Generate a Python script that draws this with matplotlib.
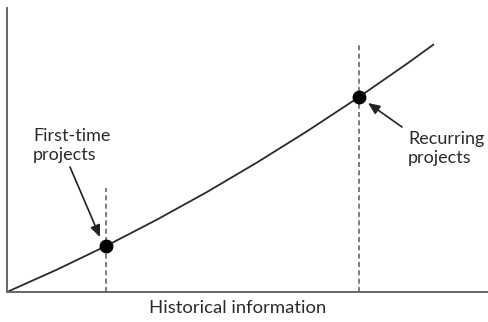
import matplotlib
matplotlib.use("Agg")
import matplotlib.pyplot as plt

# Cost-estimate accuracy curve versus amount of historical information
hist_info = [0, 50, 100, 150, 200, 250, 300, 350, 400, 427]
accuracy = [0, 22.4, 46.5, 72.4, 100, 129.5, 160.7, 193.6, 228.3, 247.8]

# Highlighted project types
labels = ["First-time\nprojects", "Recurring\nprojects"]
points_x = [99, 352]
points_y = [46, 195]
guide_tops = [104, 249]

xlabel = "Historical information"

plt.rcParams["font.family"] = ["Lato", "DejaVu Sans"]

fig = plt.figure(figsize=(4.89, 3.22), dpi=100)
ax = fig.add_axes([7 / 489, 30 / 322, 482 / 489, 284 / 322])
ax.set_xlim(0, 482)
ax.set_ylim(0, 284)

ax.plot(hist_info, accuracy, color="#2a2a2a", lw=1.3, solid_capstyle="butt")

for x, top in zip(points_x, guide_tops):
    ax.plot([x, x], [0, top], color="#666666", lw=1.2, dashes=(3, 2))

ax.plot(points_x, points_y, "o", color="black", ms=9)

text_style = dict(fontsize=13, color="#2b2b2b", ha="left", va="baseline",
                  linespacing=1.2, clip_on=False)
ax.text(26, 132, labels[0], **text_style)
ax.text(401, 129, labels[1], **text_style)

arrow_style = dict(arrowstyle="-|>,head_length=0.7,head_width=0.3",
                   color="#222222", lw=1.2, shrinkA=0, shrinkB=0)
ax.annotate("", xy=(93, 55), xytext=(63, 125), arrowprops=arrow_style)
ax.annotate("", xy=(361, 189), xytext=(395, 165), arrowprops=arrow_style)

ax.text(231, -21, xlabel, fontsize=13.3, color="#2b2b2b",
        ha="center", va="baseline", clip_on=False)

ax.set_xticks([])
ax.set_yticks([])
for side in ("top", "right"):
    ax.spines[side].set_visible(False)
for side in ("left", "bottom"):
    ax.spines[side].set_color("#666666")
    ax.spines[side].set_linewidth(1.4)

fig.savefig("out.png", dpi=100)
